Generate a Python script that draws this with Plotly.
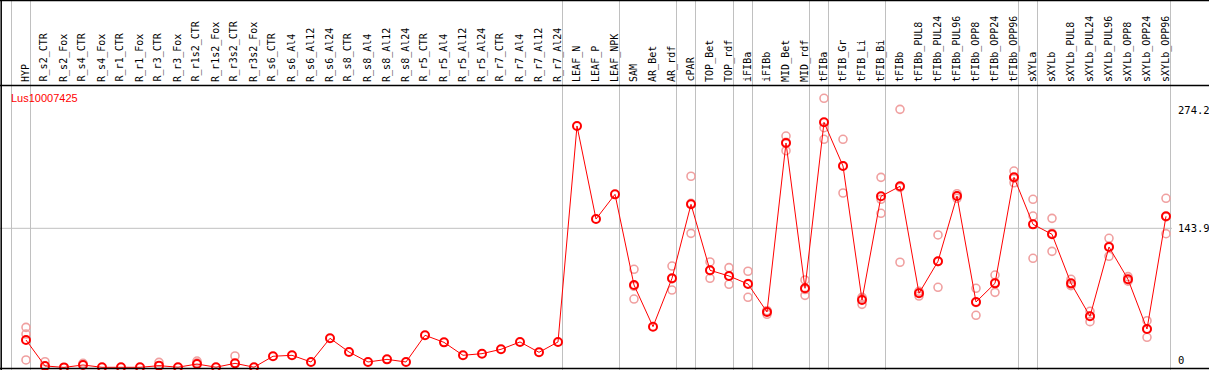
import plotly.graph_objects as go

samples = ["HYP", "R_s2_CTR", "R_s2_Fox", "R_s4_CTR", "R_s4_Fox", "R_r1_CTR", "R_r1_Fox",
           "R_r3_CTR", "R_r3_Fox", "R_r1s2_CTR", "R_r1s2_Fox", "R_r3s2_CTR", "R_r3s2_Fox",
           "R_s6_CTR", "R_s6_Al4", "R_s6_Al12", "R_s6_Al24", "R_s8_CTR", "R_s8_Al4", "R_s8_Al12",
           "R_s8_Al24", "R_r5_CTR", "R_r5_Al4", "R_r5_Al12", "R_r5_Al24", "R_r7_CTR", "R_r7_Al4",
           "R_r7_Al12", "R_r7_Al24", "LEAF_N", "LEAF_P", "LEAF_NPK", "SAM", "AR_Bet", "AR_rdf",
           "cPAR", "TOP_Bet", "TOP_rdf", "iFIBa", "iFIBb", "MID_Bet", "MID_rdf", "tFIBa",
           "tFIB_Gr", "tFIB_Li", "tFIB_Bi", "tFIBb", "tFIBb_PUL8", "tFIBb_PUL24", "tFIBb_PUL96",
           "tFIBb_OPP8", "tFIBb_OPP24", "tFIBb_OPP96", "sXYLa", "sXYLb", "sXYLb_PUL8",
           "sXYLb_PUL24", "sXYLb_PUL96", "sXYLb_OPP8", "sXYLb_OPP24", "sXYLb_OPP96"]

mean_values = [28.4, 1.6, 0.1, 2.6, 0.2, 0.2, 0.2, 1.9, 0.3, 3.6, 0.3, 4.3, 0.3,
               11.6, 12.6, 5.7, 30.2, 16.0, 5.7, 8.4, 5.7, 33.3, 26.0, 12.6, 14.3, 18.8, 26.4,
               15.7, 26.4, 249.7, 153.5, 179.0, 85.3, 42.2, 92.2, 168.7, 100.5, 94.6, 86.3,
               57.4, 232.1, 81.9, 253.5, 208.3, 69.8, 177.0, 187.3, 76.7, 109.8, 177.3, 67.7,
               87.0, 196.6, 148.0, 137.7, 87.0, 52.9, 124.6, 91.2, 39.8, 156.3]

# replicate values per sample (sample name -> list)
replicates = {
    "HYP": [41.5, 34.6, 7.8],
    "R_s2_CTR": [6.0],
    "R_s4_CTR": [4.3],
    "R_r3_CTR": [5.3],
    "R_r1s2_CTR": [6.7, 4.8],
    "R_r3s2_CTR": [11.9],
    "SAM": [101.5, 84.0, 70.8],
    "AR_rdf": [104.9, 91.6, 80.1],
    "cPAR": [197.7, 169.7, 138.7],
    "TOP_Bet": [109.1, 100.2, 92.2],
    "TOP_rdf": [103.2, 94.6, 86.0],
    "iFIBa": [99.5, 86.8, 72.6],
    "iFIBb": [58.7, 58.5, 55.0],
    "MID_Bet": [239.3, 232.9, 224.1],
    "MID_rdf": [90.5, 80.6, 74.6],
    "tFIBa": [278.3, 247.9, 235.9],
    "tFIB_Gr": [235.9, 208.6, 180.4],
    "tFIB_Li": [72.6, 71.5, 65.3],
    "tFIB_Bi": [196.6, 173.9, 159.4],
    "tFIBb": [266.9, 186.2, 108.8],
    "tFIBb_PUL8": [78.8, 77.4, 73.9],
    "tFIBb_PUL24": [137.0, 109.5, 82.9],
    "tFIBb_PUL96": [179.7, 177.3, 174.9],
    "tFIBb_OPP8": [81.9, 67.2, 54.0],
    "tFIBb_OPP24": [95.6, 87.7, 77.7],
    "tFIBb_OPP96": [203.1, 195.7, 191.0],
    "sXYLa": [173.9, 156.6, 112.9],
    "sXYLb": [154.2, 138.8, 120.1],
    "sXYLb_PUL8": [91.2, 85.3, 84.6],
    "sXYLb_PUL24": [58.1, 53.3, 47.4],
    "sXYLb_PUL96": [133.6, 125.2, 115.0],
    "sXYLb_OPP8": [93.9, 90.5, 89.2],
    "sXYLb_OPP24": [48.4, 39.8, 31.2],
    "sXYLb_OPP96": [174.9, 155.7, 138.3],
}

# group separators are drawn after these samples ("" = before first)
group_ends = ["", "HYP", "R_r7_Al24", "LEAF_NPK", "AR_rdf", "cPAR", "TOP_rdf", "iFIBa",
              "MID_rdf", "tFIBa", "tFIB_Bi", "tFIBb_OPP96", "sXYLa", "sXYLb_OPP96"]

gene = "Lus10007425"
tick_vals = [0, 143.9, 274.2]
tick_text = ["0", "143.9", "274.2"]

W, H = 1209, 370
X0, DX = 26.0, 19.0          # pixel position of first column, column spacing
Y0, SY = 367.5, 0.9673       # pixel of value 0, pixels per unit

def py(px):
    return 1 - px / H

idx = list(range(len(samples)))
rep_x, rep_y = [], []
for name, vals in replicates.items():
    i = samples.index(name)
    for v in vals:
        rep_x.append(i)
        rep_y.append(v)

fig = go.Figure()
fig.add_trace(go.Scatter(x=rep_x, y=rep_y, mode="markers",
                         marker=dict(symbol="circle-open", size=8, color="#f0a0a0",
                                     line=dict(width=1.6, color="#f0a0a0")),
                         hoverinfo="skip", cliponaxis=False))
fig.add_trace(go.Scatter(x=idx, y=mean_values, mode="lines+markers",
                         line=dict(color="#ff0000", width=1),
                         marker=dict(symbol="circle-open", size=8, color="#ff0000",
                                     line=dict(width=2, color="#ff0000")),
                         cliponaxis=False))

shapes = []
# gray separators
for g in group_ends:
    i = -1 if g == "" else samples.index(g)
    xs = i + 4.5 / DX
    shapes.append(dict(type="line", xref="x", yref="paper", x0=xs, x1=xs, y0=0, y1=1,
                       line=dict(color="#c0c0c0", width=1), layer="below"))
# horizontal grid line at middle tick
shapes.append(dict(type="line", xref="paper", yref="y", x0=0, x1=1172 / W,
                   y0=tick_vals[1], y1=tick_vals[1], line=dict(color="#c0c0c0", width=1),
                   layer="below"))
# black frame lines
for ypx in [0.5, 85.5, 368.5]:
    shapes.append(dict(type="line", xref="paper", yref="paper", x0=0, x1=1,
                       y0=py(ypx), y1=py(ypx), line=dict(color="black", width=1.5)))
shapes.append(dict(type="line", xref="paper", yref="paper", x0=1.2 / W, x1=1.2 / W,
                   y0=0, y1=1, line=dict(color="black", width=1.5)))

annotations = []
for i, s in enumerate(samples):
    annotations.append(dict(x=i - 0.03, xref="x", y=py(83.5), yref="paper", text=s,
                            textangle=-90, showarrow=False, xanchor="center",
                            yanchor="bottom",
                            font=dict(family="DejaVu Sans Mono", size=10, color="black")))
annotations.append(dict(x=9 / W, xref="paper", y=py(98), yref="paper", text=gene,
                        showarrow=False, xanchor="left", yanchor="middle",
                        font=dict(family="Liberation Sans", size=11, color="#ff0000")))
anchors = ["bottom", "middle", "top"]
for v, t, a in zip(tick_vals, tick_text, anchors):
    annotations.append(dict(x=1176 / W, xref="paper", y=v, yref="y", text=t,
                            showarrow=False, xanchor="left", yanchor=a,
                            font=dict(family="DejaVu Sans Mono", size=10.5, color="black")))

fig.update_layout(
    width=W, height=H, margin=dict(l=0, r=0, t=0, b=0, pad=0),
    paper_bgcolor="white", plot_bgcolor="white", showlegend=False,
    xaxis=dict(range=[-X0 / DX, (W - X0) / DX], visible=False, fixedrange=True),
    yaxis=dict(range=[(Y0 - H) / SY, Y0 / SY], visible=False, fixedrange=True),
    shapes=shapes, annotations=annotations,
)

fig.write_html("out.html", config={"displayModeBar": False},
               post_script="document.body.style.margin='0';document.body.style.overflow='hidden';")
